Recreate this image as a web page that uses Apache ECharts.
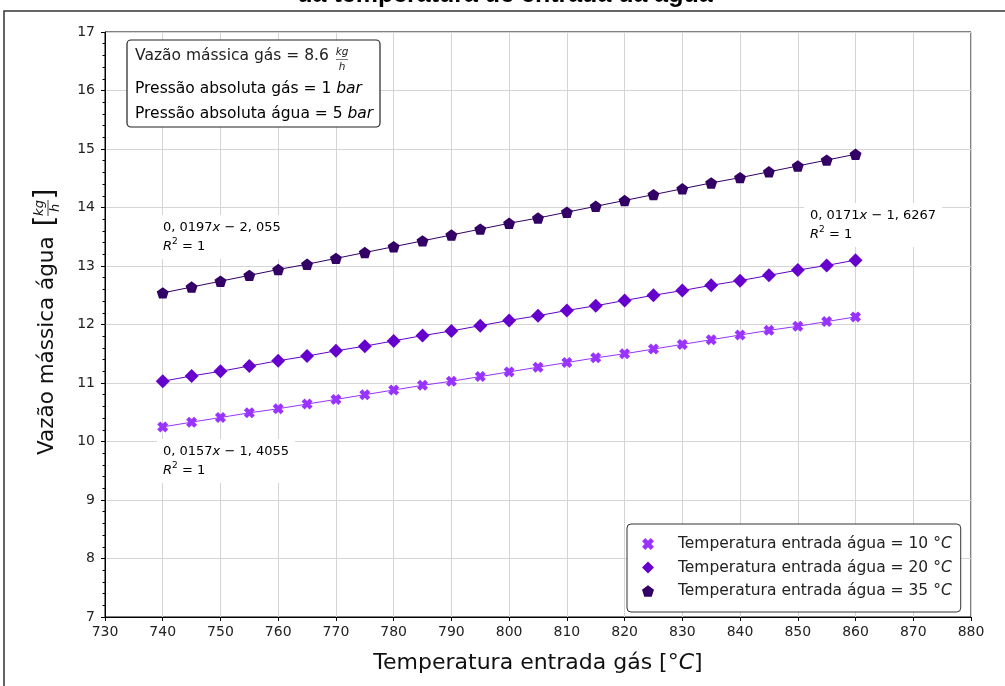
<!DOCTYPE html>
<html>
<head>
<meta charset="utf-8">
<script src="https://cdn.jsdelivr.net/npm/echarts@6/dist/echarts.min.js"></script>
<style>
  html, body { margin: 0; padding: 0; background: #fff; }
  #chart { width: 1005px; height: 686px; }
</style>
</head>
<body>
<div id="chart"></div>
<script>
// eixo x: temperatura de entrada do gás [°C]
const temperaturaGas = [740, 745, 750, 755, 760, 765, 770, 775, 780, 785, 790, 795, 800,
  805, 810, 815, 820, 825, 830, 835, 840, 845, 850, 855, 860]

// vazão mássica de água [kg/h] para cada temperatura de entrada da água
const agua10 = [10.25, 10.33, 10.41, 10.49, 10.56, 10.64, 10.72, 10.80, 10.88, 10.96, 11.03, 11.11, 11.19,
  11.27, 11.35, 11.43, 11.50, 11.58, 11.66, 11.74, 11.82, 11.90, 11.97, 12.05, 12.13]
const agua20 = [11.03, 11.12, 11.20, 11.29, 11.38, 11.46, 11.55, 11.63, 11.72, 11.81, 11.89, 11.98, 12.07,
  12.15, 12.24, 12.32, 12.41, 12.50, 12.58, 12.67, 12.75, 12.84, 12.93, 13.01, 13.10]
const agua35 = [12.54, 12.64, 12.74, 12.84, 12.94, 13.03, 13.13, 13.23, 13.33, 13.43, 13.53, 13.63, 13.73,
  13.82, 13.92, 14.02, 14.12, 14.22, 14.32, 14.42, 14.51, 14.61, 14.71, 14.81, 14.91]

const nomesSeries = [
  'Temperatura entrada água = 10 °C',
  'Temperatura entrada água = 20 °C',
  'Temperatura entrada água = 35 °C'
]
const cores = ['#9933ff', '#6600cc', '#330066']

// marcadores (X, losango, pentágono)
const simboloX = 'path://M-1,-0.45 L-0.45,-1 L0,-0.55 L0.45,-1 L1,-0.45 L0.55,0 L1,0.45 L0.45,1 L0,0.55 L-0.45,1 L-1,0.45 L-0.55,0 Z'
const simboloLosango = 'path://M0,-1 L1,0 L0,1 L-1,0 Z'
const simboloPentagono = 'path://M0,-1 L0.951,-0.309 L0.588,0.809 L-0.588,0.809 L-0.951,-0.309 Z'
const simbolos = [simboloX, simboloLosango, simboloPentagono]
const tamanhos = [11, 14, 12]

const fonte = 'DejaVu Sans'
const seriesDados = [agua10, agua20, agua35]

const chart = echarts.init(document.getElementById('chart'))

// rótulo das equações de ajuste
function rotuloEquacao(x, y, coef, termo) {
  return {
    type: 'text',
    left: x,
    top: y,
    z: 50,
    style: {
      text: '{n|' + coef + '}{i|x}{n|' + termo + '}\n{i|R}{s|2}{n| = 1}',
      backgroundColor: '#fff',
      padding: [3, 6, 3, 6],
      rich: {
        n: { fontFamily: fonte, fontSize: 13, color: '#222', lineHeight: 19 },
        i: { fontFamily: fonte, fontSize: 13, color: '#222', fontStyle: 'italic', lineHeight: 19 },
        s: { fontFamily: fonte, fontSize: 9, color: '#222', verticalAlign: 'top', lineHeight: 19 }
      }
    }
  }
}

const option = {
  backgroundColor: '#fff',
  animation: false,
  grid: { left: 105, right: 34, top: 32, bottom: 69, show: true, borderColor: '#000', borderWidth: 1, backgroundColor: '#fff' },
  xAxis: {
    type: 'value',
    min: 730,
    max: 880,
    interval: 10,
    name: '{n|Temperatura entrada gás [°}{i|C}{n|]}',
    nameLocation: 'middle',
    nameGap: 35,
    nameTextStyle: {
      rich: {
        n: { fontFamily: fonte, fontSize: 22, color: '#111' },
        i: { fontFamily: fonte, fontSize: 22, color: '#111', fontStyle: 'italic' }
      }
    },
    axisLine: { lineStyle: { color: '#000' } },
    axisTick: { length: 4, lineStyle: { color: '#000' } },
    axisLabel: { fontFamily: fonte, fontSize: 14, color: '#222', margin: 8 },
    splitLine: { lineStyle: { color: '#d5d5d5' } }
  },
  yAxis: {
    type: 'value',
    min: 7,
    max: 17,
    interval: 1,
    axisLine: { show: true, lineStyle: { color: '#000' } },
    axisTick: { show: true, length: 4, lineStyle: { color: '#000' } },
    minorTick: { show: true, splitNumber: 5, length: 2.5, lineStyle: { color: '#000' } },
    axisLabel: { fontFamily: fonte, fontSize: 14, color: '#222', margin: 10 },
    splitLine: { lineStyle: { color: '#d5d5d5' } }
  },
  legend: {
    orient: 'vertical',
    left: 627,
    top: 524,
    padding: [12, 9, 13, 15],
    itemWidth: 12,
    itemHeight: 12,
    itemGap: 7.5,
    borderColor: '#333',
    borderWidth: 1,
    borderRadius: 4,
    backgroundColor: '#fff',
    data: nomesSeries.map((n, i) => ({ name: n, icon: simbolos[i] })),
    formatter: n => '{n|' + n.slice(0, -1) + '}{i|C}',
    textStyle: {
      rich: {
        n: { fontFamily: fonte, fontSize: 15.5, color: '#222', padding: [0, 0, 0, 19] },
        i: { fontFamily: fonte, fontSize: 15.5, color: '#222', fontStyle: 'italic' }
      }
    }
  },
  series: seriesDados.map((d, i) => ({
    name: nomesSeries[i],
    type: 'line',
    data: temperaturaGas.map((t, k) => [t, d[k]]),
    symbol: simbolos[i],
    symbolSize: tamanhos[i],
    symbolKeepAspect: true,
    showAllSymbol: true,
    itemStyle: { color: cores[i] },
    lineStyle: { color: cores[i], width: 1 },
    z: 3
  })),
  graphic: [
    // moldura da figura
    {
      type: 'rect',
      shape: { x: 4, y: 11, width: 1100, height: 800 },
      style: { fill: 'none', stroke: '#333', lineWidth: 1.5 },
      z: 0,
      silent: true
    },
    // título (cortado no topo)
    {
      type: 'text',
      x: 505,
      y: -5,
      style: {
        text: 'da temperatura de entrada da água',
        font: 'bold 25px "Liberation Sans", Arial',
        fill: '#000',
        textAlign: 'center',
        textVerticalAlign: 'middle'
      }
    },
    // caixa de parâmetros
    {
      type: 'rect',
      shape: { x: 127, y: 40, width: 253, height: 87, r: 4 },
      style: { fill: '#fff', stroke: '#222', lineWidth: 1.2 },
      z: 50
    },
    {
      type: 'text', x: 135, y: 56, z: 51,
      style: { text: 'Vazão mássica gás = 8.6', font: '15.5px "DejaVu Sans"', fill: '#222', textVerticalAlign: 'middle' }
    },
    {
      type: 'text', x: 342, y: 52, z: 51,
      style: { text: 'kg', font: 'italic 10.5px "DejaVu Sans"', fill: '#222', textAlign: 'center', textVerticalAlign: 'middle' }
    },
    {
      type: 'line', z: 51,
      shape: { x1: 336, y1: 59.5, x2: 348, y2: 59.5 },
      style: { stroke: '#222', lineWidth: 0.6 }
    },
    {
      type: 'text', x: 342, y: 67, z: 51,
      style: { text: 'h', font: 'italic 10.5px "DejaVu Sans"', fill: '#222', textAlign: 'center', textVerticalAlign: 'middle' }
    },
    {
      type: 'text', x: 135, y: 89, z: 51,
      style: {
        text: '{n|Pressão absoluta gás = 1 }{i|bar}',
        textVerticalAlign: 'middle',
        rich: {
          n: { fontFamily: fonte, fontSize: 15.5, color: '#222' },
          i: { fontFamily: fonte, fontSize: 15.5, color: '#222', fontStyle: 'italic' }
        }
      }
    },
    {
      type: 'text', x: 135, y: 114, z: 51,
      style: {
        text: '{n|Pressão absoluta água = 5 }{i|bar}',
        textVerticalAlign: 'middle',
        rich: {
          n: { fontFamily: fonte, fontSize: 15.5, color: '#222' },
          i: { fontFamily: fonte, fontSize: 15.5, color: '#222', fontStyle: 'italic' }
        }
      }
    },
    // equações de ajuste
    rotuloEquacao(157, 215, '0, 0197', ' − 2, 055'),
    rotuloEquacao(804, 203, '0, 0171', ' − 1, 6267'),
    rotuloEquacao(157, 439, '0, 0157', ' − 1, 4055'),
    // título do eixo y (rotacionado)
    {
      type: 'group',
      x: 47,
      y: 324,
      rotation: Math.PI / 2,
      children: [
        {
          type: 'text', x: -131, y: 0,
          style: { text: 'Vazão mássica água', font: '21.5px "DejaVu Sans"', fill: '#111', textVerticalAlign: 'middle' }
        },
        {
          type: 'text', x: 103, y: 0,
          style: { text: '[', font: '28px "DejaVu Sans"', fill: '#111', textAlign: 'center', textVerticalAlign: 'middle' }
        },
        {
          type: 'text', x: 116, y: -7,
          style: { text: 'kg', font: 'italic 13px "DejaVu Sans"', fill: '#111', textAlign: 'center', textVerticalAlign: 'middle' }
        },
        {
          type: 'line',
          shape: { x1: 108, y1: 1, x2: 124, y2: 1 },
          style: { stroke: '#111', lineWidth: 0.8 }
        },
        {
          type: 'text', x: 116, y: 9,
          style: { text: 'h', font: 'italic 13px "DejaVu Sans"', fill: '#111', textAlign: 'center', textVerticalAlign: 'middle' }
        },
        {
          type: 'text', x: 130, y: 0,
          style: { text: ']', font: '28px "DejaVu Sans"', fill: '#111', textAlign: 'center', textVerticalAlign: 'middle' }
        }
      ]
    }
  ]
}

chart.setOption(option)
</script>
</body>
</html>
